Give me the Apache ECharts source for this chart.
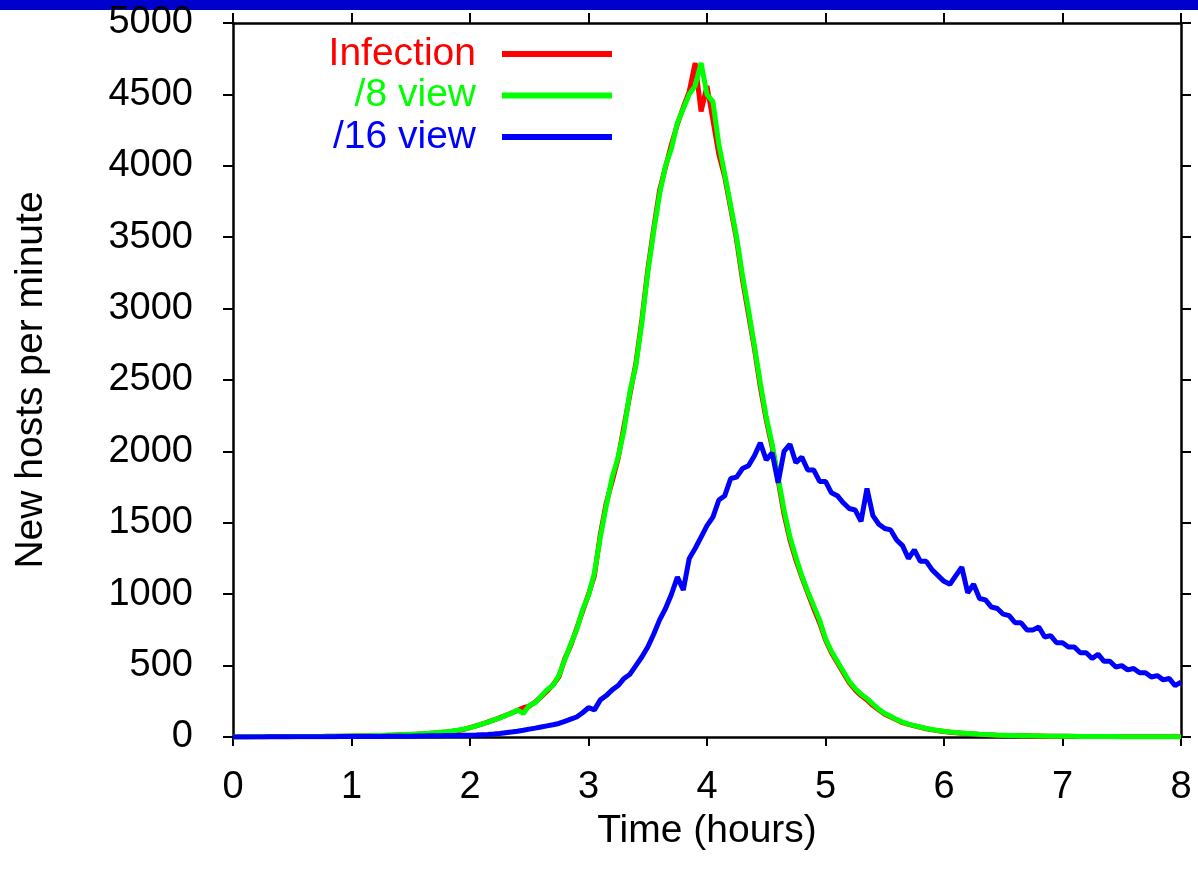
<!DOCTYPE html>
<html>
<head>
<meta charset="utf-8">
<title>New hosts per minute</title>
<script src="https://cdn.jsdelivr.net/npm/echarts@6/dist/echarts.min.js"></script>
<style>
  html, body { margin: 0; padding: 0; background: #fff; }
  #chart { width: 1198px; height: 870px; }
</style>
</head>
<body>
<div id="chart"></div>
<script>
// time in hours, one sample every 3 minutes
const hours = [
  0, 0.05, 0.1, 0.15, 0.2, 0.25, 0.3, 0.35, 0.4, 0.45, 0.5, 0.55, 0.6, 0.65, 0.7, 0.75, 0.8, 0.85, 0.9, 0.95,
  1, 1.05, 1.1, 1.15, 1.2, 1.25, 1.3, 1.35, 1.4, 1.45, 1.5, 1.55, 1.6, 1.65, 1.7, 1.75, 1.8, 1.85, 1.9, 1.95,
  2, 2.05, 2.1, 2.15, 2.2, 2.25, 2.3, 2.35, 2.4, 2.45, 2.5, 2.55, 2.6, 2.65, 2.7, 2.75, 2.8, 2.85, 2.9, 2.95,
  3, 3.05, 3.1, 3.15, 3.2, 3.25, 3.3, 3.35, 3.4, 3.45, 3.5, 3.55, 3.6, 3.65, 3.7, 3.75, 3.8, 3.85, 3.9, 3.95,
  4, 4.05, 4.1, 4.15, 4.2, 4.25, 4.3, 4.35, 4.4, 4.45, 4.5, 4.55, 4.6, 4.65, 4.7, 4.75, 4.8, 4.85, 4.9, 4.95,
  5, 5.05, 5.1, 5.15, 5.2, 5.25, 5.3, 5.35, 5.4, 5.45, 5.5, 5.55, 5.6, 5.65, 5.7, 5.75, 5.8, 5.85, 5.9, 5.95,
  6, 6.05, 6.1, 6.15, 6.2, 6.25, 6.3, 6.35, 6.4, 6.45, 6.5, 6.55, 6.6, 6.65, 6.7, 6.75, 6.8, 6.85, 6.9, 6.95,
  7, 7.05, 7.1, 7.15, 7.2, 7.25, 7.3, 7.35, 7.4, 7.45, 7.5, 7.55, 7.6, 7.65, 7.7, 7.75, 7.8, 7.85, 7.9, 7.95,
  8
];

// new hosts per minute
const infection = [
  0, 0, 0, 0, 1, 1, 1, 1, 2, 2, 2, 3, 3, 3, 4, 4, 5, 5, 6, 6,
  7, 8, 8, 9, 10, 11, 12, 13, 15, 16, 18, 20, 22, 25, 28, 31, 35, 40, 46, 53,
  65, 78, 90, 105, 118, 135, 150, 168, 185, 205, 215, 245, 280, 320, 365, 420, 550, 640, 760, 880,
  1000, 1130, 1420, 1640, 1790, 1950, 2180, 2400, 2620, 2920, 3270, 3560, 3830, 3990, 4150, 4290, 4410, 4520, 4720, 4380,
  4560, 4320, 4080, 3920, 3700, 3480, 3200, 2960, 2720, 2450, 2220, 2030, 1800, 1560, 1380, 1240, 1120, 1010, 900, 800,
  680, 590, 520, 450, 380, 330, 290, 260, 220, 190, 160, 140, 120, 100, 88, 78, 68, 58, 50, 44,
  38, 34, 30, 27, 24, 21, 18, 16, 14, 12, 11, 10, 9, 8, 8, 7, 7, 6, 6, 5,
  5, 5, 4, 4, 4, 3, 3, 3, 3, 2, 2, 2, 2, 2, 1, 1, 1, 1, 1, 1,
  1
];

const view8 = [
  0, 0, 0, 1, 1, 1, 1, 2, 2, 2, 3, 3, 3, 4, 4, 4, 5, 5, 6, 7,
  7, 8, 9, 9, 10, 11, 12, 14, 15, 17, 19, 21, 24, 26, 29, 33, 37, 42, 48, 56,
  66, 76, 92, 102, 120, 132, 152, 165, 190, 165, 220, 240, 285, 330, 360, 430, 540, 650, 750, 890,
  990, 1150, 1400, 1620, 1820, 1960, 2150, 2420, 2600, 2900, 3250, 3540, 3800, 4000, 4120, 4300, 4400, 4500, 4560, 4720,
  4500, 4450, 4150, 3940, 3720, 3500, 3230, 2990, 2740, 2480, 2240, 2050, 1820, 1590, 1400, 1260, 1130, 1020, 920, 820,
  690, 600, 530, 460, 390, 340, 300, 270, 230, 195, 165, 145, 122, 104, 90, 80, 70, 60, 52, 46,
  40, 35, 31, 28, 25, 22, 19, 17, 15, 13, 12, 11, 10, 9, 8, 8, 7, 7, 6, 6,
  5, 5, 5, 4, 4, 4, 3, 3, 3, 3, 2, 2, 2, 2, 2, 1, 1, 1, 1, 1,
  1
];

const view16 = [
  0, 0, 0, 0, 0, 0, 1, 1, 1, 1, 1, 1, 1, 2, 2, 2, 2, 2, 3, 3,
  3, 3, 3, 4, 4, 4, 5, 5, 5, 6, 6, 7, 7, 8, 8, 9, 10, 10, 11, 12,
  13, 14, 16, 18, 21, 25, 30, 35, 40, 47, 55, 62, 70, 78, 86, 95, 110, 125, 140, 170,
  205, 190, 260, 290, 330, 360, 410, 440, 500, 560, 630, 720, 820, 900, 1000, 1120, 1030, 1250, 1320, 1400,
  1480, 1540, 1660, 1690, 1810, 1820, 1880, 1900, 1970, 2060, 1940, 1990, 1780, 2000, 2050, 1920, 1960, 1870, 1870, 1790,
  1790, 1710, 1690, 1640, 1600, 1590, 1510, 1740, 1550, 1490, 1460, 1450, 1380, 1340, 1250, 1310, 1230, 1230, 1170, 1130,
  1090, 1070, 1130, 1190, 1010, 1070, 970, 960, 910, 900, 860, 850, 800, 800, 750, 750, 770, 700, 710, 660,
  660, 630, 630, 590, 590, 550, 580, 530, 530, 490, 500, 470, 480, 450, 450, 420, 430, 400, 410, 360,
  385
];

const seriesNames = ["Infection", "/8 view", "/16 view"];
const seriesColors = ["#ff0000", "#00ff00", "#0000ff"];
const lineWidths = [5, 5, 5];

const FONT = "'Liberation Sans', Arial, Helvetica, sans-serif";

const chart = echarts.init(document.getElementById("chart"));

// 坐标轴公共样式
const axisLine = { show: true, onZero: false, lineStyle: { color: "#000", width: 2.5 } };
const labelStyle = {
  color: "#000",
  fontFamily: FONT,
  fontSize: 38,
  textShadowColor: "rgba(0,0,0,0.3)",
  textShadowOffsetX: 1,
  textShadowOffsetY: 1,
  // 不要千位分隔符
  formatter: (v) => String(v),
};

const toPairs = (vals) => hours.map((h, i) => [h, vals[i]]);

const option = {
  backgroundColor: "#fff",
  animation: false,
  graphic: [
    {
      type: "rect",
      left: 0,
      top: 0,
      shape: { width: 1198, height: 10 },
      style: { fill: "#0000cc" },
    },
  ],
  grid: { left: 233, right: 17, top: 23, bottom: 133 },
  legend: {
    orient: "vertical",
    align: "right",
    right: 586,
    top: 34,
    padding: 0,
    itemGap: 1.5,
    itemWidth: 110,
    itemHeight: 6,
    icon: "rect",
    textStyle: {
      fontFamily: FONT,
      fontSize: 39,
      lineHeight: 40,
      padding: [0, 21, 0, 0],
    },
    data: seriesNames.map((n, i) => ({ name: n, textStyle: { color: seriesColors[i] } })),
  },
  xAxis: [
    {
      type: "value",
      min: 0,
      max: 8,
      interval: 1,
      name: "Time (hours)",
      nameLocation: "middle",
      nameGap: 60,
      nameTextStyle: { color: "#000", fontFamily: FONT, fontSize: 39 },
      axisLine: axisLine,
      axisTick: { show: true, inside: false, length: 9, lineStyle: { color: "#000", width: 2 } },
      axisLabel: Object.assign({ margin: 32 }, labelStyle),
      splitLine: { show: false },
    },
    {
      type: "value",
      position: "top",
      min: 0,
      max: 8,
      interval: 1,
      axisLine: axisLine,
      axisTick: { show: true, inside: false, length: 10, lineStyle: { color: "#000", width: 2 } },
      axisLabel: { show: false },
      splitLine: { show: false },
    },
  ],
  yAxis: [
    {
      type: "value",
      min: 0,
      max: 5000,
      interval: 500,
      name: "New hosts per minute",
      nameLocation: "middle",
      nameRotate: 90,
      nameGap: 182,
      nameTextStyle: { color: "#000", fontFamily: FONT, fontSize: 39 },
      axisLine: axisLine,
      axisTick: { show: true, inside: false, length: 10, lineStyle: { color: "#000", width: 2 } },
      axisLabel: Object.assign({ margin: 40 }, labelStyle),
      splitLine: { show: false },
    },
    {
      type: "value",
      position: "right",
      min: 0,
      max: 5000,
      interval: 500,
      axisLine: axisLine,
      axisTick: { show: true, inside: false, length: 10, lineStyle: { color: "#000", width: 2 } },
      axisLabel: { show: false },
      splitLine: { show: false },
    },
  ],
  series: [infection, view8, view16].map((vals, i) => ({
    name: seriesNames[i],
    type: "line",
    xAxisIndex: 0,
    yAxisIndex: 0,
    showSymbol: false,
    symbol: "none",
    color: seriesColors[i],
    lineStyle: { color: seriesColors[i], width: lineWidths[i] },
    data: toPairs(vals),
  })),
};

chart.setOption(option);
</script>
</body>
</html>
